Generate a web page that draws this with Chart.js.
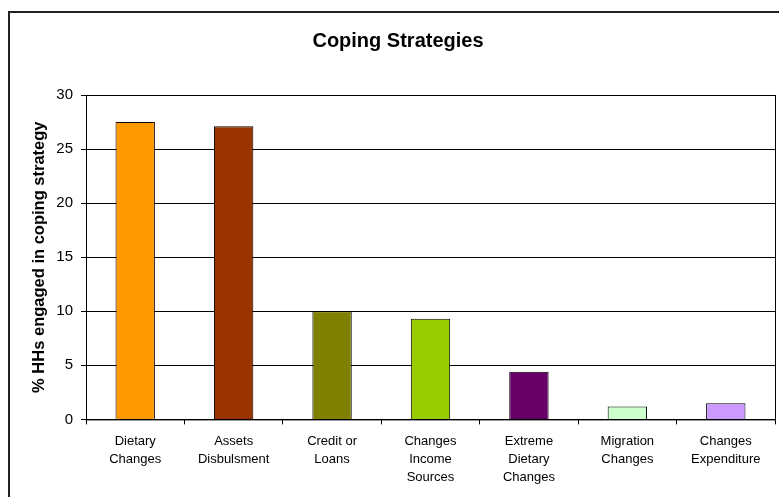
<!DOCTYPE html>
<html>
<head>
<meta charset="utf-8">
<script src="https://cdn.jsdelivr.net/npm/chart.js@4"></script>
<style>
    html, body { margin: 0; padding: 0; background: #fff; overflow: hidden; }
    #frame { position: absolute; left: 8px; top: 11px; width: 900px; height: 600px; border: 2px solid #222; }
    #wrap { position: absolute; left: 0; top: 0; width: 796px; height: 497px; }
</style>
</head>
<body>
<div id="frame"></div>
<div id="wrap"><canvas id="copingChart" width="796" height="497"></canvas></div>
<script>
const categories = [
    ["Dietary", "Changes"],
    ["Assets", "Disbulsment"],
    ["Credit or", "Loans"],
    ["Changes", "Income", "Sources"],
    ["Extreme", "Dietary", "Changes"],
    ["Migration", "Changes"],
    ["Changes", "Expenditure"]
];
const percentHHs = [27.5, 27.1, 10.0, 9.3, 4.4, 1.2, 1.5];
const barColors = ["#FF9900", "#993300", "#808000", "#99CC00", "#660066", "#CCFFCC", "#CC99FF"];
const yTicks = [0, 5, 10, 15, 20, 25, 30];

Chart.defaults.font.family = "'Liberation Sans', Arial, sans-serif";
Chart.defaults.color = "#000";

// box round the plot area (top and right sides)
const plotBorder = {
    id: "plotBorder",
    afterDraw(chart) {
        const { ctx, chartArea } = chart;
        ctx.save();
        ctx.strokeStyle = "#000";
        ctx.lineWidth = 1;
        ctx.strokeRect(chartArea.left + 0.5, chartArea.top + 0.5, chartArea.right - chartArea.left, chartArea.bottom - chartArea.top);
        ctx.restore();
    }
};

new Chart(document.getElementById("copingChart"), {
    type: "bar",
    data: {
        labels: categories,
        datasets: [{
            label: "% HHs",
            data: percentHHs,
            backgroundColor: barColors,
            borderColor: "#000",
            borderWidth: 1,
            barPercentage: 0.4,
            categoryPercentage: 1
        }]
    },
    options: {
        responsive: false,
        animation: false,
        layout: { padding: { left: 0, right: 0, top: 0, bottom: 2 } },
        plugins: {
            legend: { display: false },
            tooltip: { enabled: false },
            title: {
                display: true,
                text: "Coping Strategies",
                font: { size: 20, weight: "bold" },
                color: "#000",
                padding: { top: 29, bottom: 42 }
            }
        },
        scales: {
            x: {
                grid: { display: true, drawOnChartArea: false, color: "#000", tickLength: 5, offset: true },
                border: { color: "#000", width: 1 },
                ticks: { font: { size: 13, lineHeight: 1.4 }, color: "#000", maxRotation: 0, autoSkip: false, padding: 8 }
            },
            y: {
                min: 0,
                max: 30,
                afterBuildTicks(axis) { axis.ticks = yTicks.map(v => ({ value: v })); },
                afterFit(axis) { axis.width = 86; },
                grid: { color: "#000", tickLength: 5 },
                border: { color: "#000", width: 1 },
                ticks: { font: { size: 15 }, color: "#000", padding: 8 },
                title: {
                    display: true,
                    text: "% HHs engaged in coping strategy",
                    font: { size: 16.5, weight: "bold" },
                    color: "#000",
                    padding: { top: 30, bottom: 0 }
                }
            },
            // empty axis on the right, only to keep the plot away from the edge
            yRight: {
                position: "right",
                min: 0,
                max: 30,
                afterFit(axis) { axis.width = 21; },
                grid: { display: false },
                border: { display: false },
                ticks: { display: false }
            }
        }
    },
    plugins: [plotBorder]
});
</script>
</body>
</html>
